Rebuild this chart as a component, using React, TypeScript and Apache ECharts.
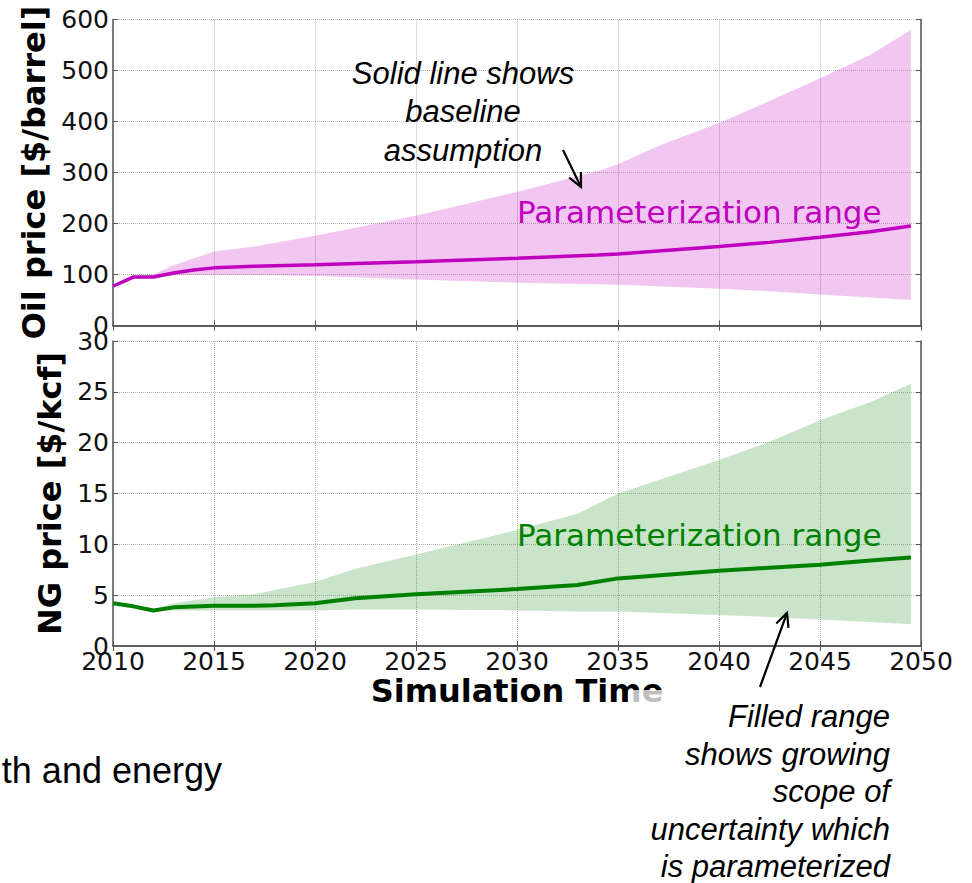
import React, { useEffect, useRef } from "react";
import * as echarts from "echarts";

// ---- Data ----
const oilYears = [2010, 2011, 2012, 2013, 2014, 2015, 2017, 2020, 2025, 2030, 2034, 2035, 2037, 2040, 2042.5, 2045, 2047.5, 2049.5];
const oilBase = [77, 95, 95, 103, 109, 113, 116, 119, 125, 132, 138, 140, 146, 155, 163, 173, 184, 195];
const oilUpper = [77, 95, 100, 118, 132, 145, 155, 176, 215, 262, 303, 316, 352, 397, 440, 485, 531, 580];
const oilLower = [77, 95, 95, 98, 99, 99, 99, 97, 90, 84, 81, 80, 77, 72, 67, 61, 55, 50];

const ngYears = [2010, 2011, 2012, 2013, 2015, 2017, 2018, 2020, 2022, 2025, 2030, 2033, 2035, 2040, 2042.5, 2045, 2047.5, 2049.5];
const ngBase = [4.2, 3.9, 3.5, 3.8, 3.95, 3.95, 4.0, 4.2, 4.7, 5.1, 5.6, 6.0, 6.65, 7.4, 7.7, 8.0, 8.4, 8.7];
const ngUpper = [4.2, 3.9, 3.6, 4.2, 4.8, 5.1, 5.5, 6.3, 7.6, 9.0, 11.4, 13.0, 15.0, 18.3, 20.1, 22.2, 24.0, 25.8];
const ngLower = [4.2, 3.9, 3.4, 3.5, 3.5, 3.5, 3.5, 3.5, 3.6, 3.6, 3.5, 3.4, 3.4, 3.05, 2.85, 2.6, 2.35, 2.15];

const xTickStart = 2010;
const xTickEnd = 2050;
const xTickStep = 5;
const oilMax = 600;
const oilStep = 100;
const ngMax = 30;
const ngStep = 5;

const OIL_COLOR = "#bf00bf";
const NG_COLOR = "#008000";
const FONT = "DejaVu Sans";
const SANS = "Liberation Sans";

function pairs(xs: number[], ys: number[]) {
  return xs.map((x, i) => [x, ys[i]]);
}

function bandSeries(xs: number[], lo: number[], hi: number[], axisIdx: number, color: string, opacity: number) {
  return {
    type: "custom",
    xAxisIndex: axisIdx,
    yAxisIndex: axisIdx,
    silent: true,
    z: 1,
    data: xs.map((x, i) => [x, lo[i], hi[i]]),
    encode: { x: 0, y: [1, 2] },
    renderItem: (params: any, api: any) => {
      if (params.dataIndex !== 0) return { type: "group", children: [] };
      const top = xs.map((x, i) => api.coord([x, hi[i]]));
      const bottom = xs.map((x, i) => api.coord([x, lo[i]])).reverse();
      return {
        type: "polygon",
        shape: { points: top.concat(bottom) },
        style: { fill: color, opacity },
      };
    },
  };
}

function arrow(x1: number, y1: number, x2: number, y2: number, head = 15) {
  const dx = x2 - x1;
  const dy = y2 - y1;
  const len = Math.sqrt(dx * dx + dy * dy);
  const ux = dx / len;
  const uy = dy / len;
  const ang = Math.PI / 7;
  const p1 = [
    x2 - head * (ux * Math.cos(ang) - uy * Math.sin(ang)),
    y2 - head * (uy * Math.cos(ang) + ux * Math.sin(ang)),
  ];
  const p2 = [
    x2 - head * (ux * Math.cos(-ang) - uy * Math.sin(-ang)),
    y2 - head * (uy * Math.cos(-ang) + ux * Math.sin(-ang)),
  ];
  const style = { stroke: "#000", lineWidth: 2.2, fill: "none" };
  return [
    { type: "line", z: 50, shape: { x1, y1, x2, y2 }, style },
    { type: "polyline", z: 50, shape: { points: [p1, [x2, y2], p2] }, style },
  ];
}

export default function App() {
  const ref = useRef<HTMLDivElement>(null);

  useEffect(() => {
    if (!ref.current) return;
    const chart = echarts.init(ref.current, undefined, { renderer: "svg" });

    const axisLine = { show: true, lineStyle: { color: "#555", width: 1.5 } };
    const tick = { show: true, inside: true, length: 5, lineStyle: { color: "#555", width: 1 } };
    const grid = { show: true, lineStyle: { color: "#b5b5b5", type: "dotted", width: 1 } };
    const tickLabel = { color: "#111", fontFamily: FONT, fontSize: 25 };

    const xBase = {
      type: "value",
      min: xTickStart,
      max: xTickEnd,
      interval: xTickStep,
      axisLine,
      axisTick: tick,
    };

    const option: any = {
      animation: false,
      backgroundColor: "#fff",
      grid: [
        { left: 113, top: 19.5, width: 808, height: 306 },
        { left: 113, top: 341, width: 808, height: 305 },
      ],
      xAxis: [
        { ...xBase, gridIndex: 0, position: "bottom", axisLabel: { show: false }, splitLine: grid },
        { ...xBase, gridIndex: 0, position: "top", axisLabel: { show: false }, splitLine: { show: false } },
        {
          ...xBase,
          gridIndex: 1,
          position: "bottom",
          axisLabel: { ...tickLabel, margin: 3, formatter: (v: number) => String(v) },
          splitLine: grid,
          name: "Simulation Time",
          nameLocation: "middle",
          nameGap: 19,
          nameTextStyle: { fontFamily: FONT, fontWeight: "bold", fontSize: 32, color: "#000", verticalAlign: "top" },
        },
        { ...xBase, gridIndex: 1, position: "top", axisLabel: { show: false }, splitLine: { show: false } },
      ],
      yAxis: [
        {
          type: "value",
          gridIndex: 0,
          min: 0,
          max: oilMax,
          interval: oilStep,
          position: "left",
          axisLine,
          axisTick: tick,
          axisLabel: { ...tickLabel, margin: 4 },
          splitLine: grid,
          name: "Oil price [$/barrel]",
          nameLocation: "middle",
          nameGap: 54,
          nameRotate: 90,
          nameTextStyle: { fontFamily: FONT, fontWeight: "bold", fontSize: 32, color: "#000" },
        },
        {
          type: "value",
          gridIndex: 0,
          min: 0,
          max: oilMax,
          interval: oilStep,
          position: "right",
          axisLine,
          axisTick: tick,
          axisLabel: { show: false },
          splitLine: { show: false },
        },
        {
          type: "value",
          gridIndex: 1,
          min: 0,
          max: ngMax,
          interval: ngStep,
          position: "left",
          axisLine,
          axisTick: tick,
          axisLabel: { ...tickLabel, margin: 4 },
          splitLine: grid,
          name: "NG price [$/kcf]",
          nameLocation: "middle",
          nameGap: 33,
          nameRotate: 90,
          nameTextStyle: { fontFamily: FONT, fontWeight: "bold", fontSize: 32, color: "#000" },
        },
        {
          type: "value",
          gridIndex: 1,
          min: 0,
          max: ngMax,
          interval: ngStep,
          position: "right",
          axisLine,
          axisTick: tick,
          axisLabel: { show: false },
          splitLine: { show: false },
        },
      ],
      series: [
        bandSeries(oilYears, oilLower, oilUpper, 0, OIL_COLOR, 0.22),
        {
          name: "oil-base",
          type: "line",
          xAxisIndex: 0,
          yAxisIndex: 0,
          symbol: "none",
          lineStyle: { color: OIL_COLOR, width: 3.5 },
          data: pairs(oilYears, oilBase),
          z: 5,
        },
        bandSeries(ngYears, ngLower, ngUpper, 2, NG_COLOR, 0.21),
        {
          name: "ng-base",
          type: "line",
          xAxisIndex: 2,
          yAxisIndex: 2,
          symbol: "none",
          lineStyle: { color: NG_COLOR, width: 4 },
          data: pairs(ngYears, ngBase),
          z: 5,
        },
      ],
      graphic: [
        {
          type: "text",
          z: 40,
          x: 517,
          y: 212,
          style: { text: "Parameterization range", fill: OIL_COLOR, font: `31px '${FONT}'`, verticalAlign: "middle", align: "left" },
        },
        {
          type: "text",
          z: 40,
          x: 517,
          y: 535,
          style: { text: "Parameterization range", fill: NG_COLOR, font: `31px '${FONT}'`, verticalAlign: "middle", align: "left" },
        },
        {
          type: "text",
          z: 40,
          x: 463,
          y: 54,
          style: {
            text: "Solid line shows\nbaseline\nassumption",
            fill: "#000",
            font: `italic 31px '${SANS}'`,
            align: "center",
            verticalAlign: "top",
            lineHeight: 38.5,
          },
        },
        {
          type: "text",
          z: 40,
          x: 890,
          y: 698,
          style: {
            text: "Filled range\nshows growing\nscope of\nuncertainty which\nis parameterized",
            fill: "#000",
            font: `italic 31px '${SANS}'`,
            align: "right",
            verticalAlign: "top",
            lineHeight: 37.5,
          },
        },
        {
          type: "text",
          z: 40,
          x: 222,
          y: 770,
          style: { text: "th and energy", fill: "#000", font: `36px '${SANS}'`, align: "right", verticalAlign: "middle" },
        },
        {
          type: "rect",
          z: 100,
          shape: { x: 628, y: 690, width: 40, height: 12 },
          style: { fill: "rgba(255,255,255,0.75)" },
        },
        ...arrow(563, 150, 581, 187),
        ...arrow(760, 687, 787, 613),
      ],
    };

    chart.setOption(option);
    return () => chart.dispose();
  }, []);

  return (
    <div
      ref={ref}
      style={{ position: "fixed", left: 0, top: 0, width: 972, height: 883, background: "#fff" }}
    />
  );
}
